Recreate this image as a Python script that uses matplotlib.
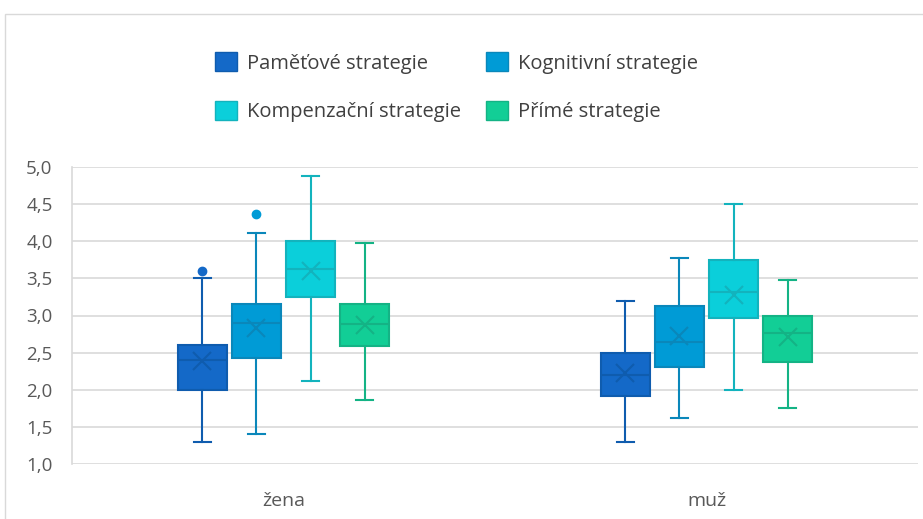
import matplotlib.pyplot as plt
from matplotlib.patches import Patch, Rectangle

plt.rcParams["font.family"] = ["Open Sans", "DejaVu Sans"]

groups = ["žena", "muž"]
series = ["Paměťové strategie", "Kognitivní strategie",
          "Kompenzační strategie", "Přímé strategie"]
fills = ["#1469C8", "#009BD6", "#0BCFDA", "#12CE96"]
edges = ["#0F5CAE", "#0A87BA", "#13B3BD", "#14B385"]

# per series: [žena, muž]
whislo = [[1.30, 1.30], [1.41, 1.62], [2.12, 2.00], [1.86, 1.75]]
q1 = [[2.00, 1.92], [2.43, 2.30], [3.25, 2.97], [2.59, 2.37]]
med = [[2.40, 2.20], [2.90, 2.64], [3.62, 3.31], [2.89, 2.77]]
mean = [[2.39, 2.23], [2.83, 2.72], [3.60, 3.28], [2.87, 2.71]]
q3 = [[2.60, 2.50], [3.15, 3.13], [4.00, 3.75], [3.16, 3.00]]
whishi = [[3.50, 3.19], [4.11, 3.78], [4.88, 4.50], [3.97, 3.48]]
fliers = [[[3.60], []], [[4.37], []], [[], []], [[], []]]

fig = plt.figure(figsize=(9.23, 5.19), dpi=100)
fig.patches.append(Rectangle((5 / 923, -0.1), 1.0, 1 - 13.5 / 519 + 0.1,
                             transform=fig.transFigure, fill=False,
                             edgecolor="#D9D9D9", linewidth=1))
ax = fig.add_axes([72 / 923, 1 - 464 / 519, 846 / 923, 297 / 519])

step = 0.128
width = 0.115
for i, name in enumerate(series):
    stats = []
    for g in range(len(groups)):
        stats.append({"whislo": whislo[i][g], "q1": q1[i][g], "med": med[i][g],
                      "mean": mean[i][g], "q3": q3[i][g], "whishi": whishi[i][g],
                      "fliers": fliers[i][g]})
    pos = [g + (i - 1.5) * step for g in range(len(groups))]
    ax.bxp(stats, positions=pos, widths=width, patch_artist=True,
           showmeans=True, showfliers=True,
           boxprops=dict(facecolor=fills[i], edgecolor=edges[i], linewidth=1.5),
           medianprops=dict(color=edges[i], linewidth=1.5),
           whiskerprops=dict(color=edges[i], linewidth=1.5),
           capprops=dict(color=edges[i], linewidth=1.5),
           meanprops=dict(marker="x", markersize=13, markeredgecolor=edges[i],
                          markeredgewidth=1.5),
           flierprops=dict(marker="o", markersize=6, markerfacecolor=fills[i],
                           markeredgecolor=fills[i]),
           capwidths=width * 0.35, zorder=3)

ax.set_xlim(-0.5, 1.5)
ax.set_ylim(1.0, 5.0)
yticks = [1.0, 1.5, 2.0, 2.5, 3.0, 3.5, 4.0, 4.5, 5.0]
ax.set_yticks(yticks)
ax.set_yticklabels([f"{v:.1f}".replace(".", ",") for v in yticks])
ax.set_xticks(range(len(groups)))
ax.set_xticklabels(groups)
ax.tick_params(axis="both", length=0, colors="#595959")
ax.tick_params(axis="y", pad=14, labelsize=13.5)
ax.tick_params(axis="x", pad=20, labelsize=14)
ax.grid(axis="y", color="#D9D9D9", linewidth=1.2, zorder=0)
for side in ["top", "right", "bottom"]:
    ax.spines[side].set_visible(False)
ax.spines["left"].set_color("#D9D9D9")
ax.spines["left"].set_linewidth(1.2)
ax.set_axisbelow(True)

order = [0, 2, 1, 3]
handles = [Patch(facecolor=fills[i], edgecolor=edges[i], label=series[i])
           for i in order]
fig.legend(handles=handles, loc="upper left", bbox_to_anchor=(197 / 923, 1 - 34 / 519),
           ncol=2, frameon=False, fontsize=14.5, labelcolor="#404040",
           handlelength=1.1, handleheight=1.1, handletextpad=0.5,
           columnspacing=1.2, labelspacing=1.35)

fig.savefig("out.png", dpi=100)
